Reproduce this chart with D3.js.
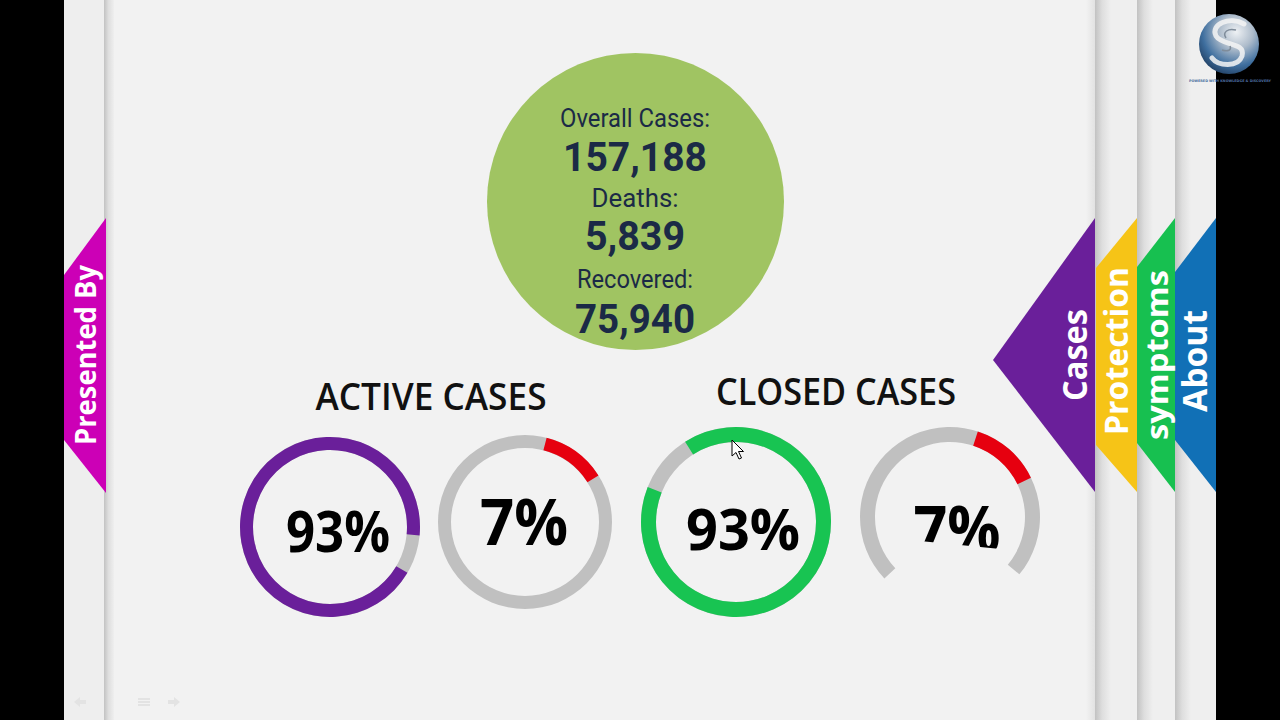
<!DOCTYPE html>
<html><head><meta charset="utf-8">
<script src="https://cdn.jsdelivr.net/npm/d3@7"></script>
<style>html,body{margin:0;padding:0;background:#000;overflow:hidden}</style>
</head><body>
<svg id="c" width="1280" height="720"></svg>
<script>
// ---------- data ----------
const statLabels = ["Overall Cases:", "Deaths:", "Recovered:"];
const statValues = ["157,188", "5,839", "75,940"];
const groupTitles = ["ACTIVE CASES", "CLOSED CASES"];
const ringLabels = ["93%", "7%", "93%", "7%"];
// arcs, in percent of a full turn (clockwise from 12 o'clock)
const ringTrack  = [[0, 100], [0, 100], [0, 100], [63, 136]];
const ringAccent = [[33.5, 126.5], [4, 16], [91, 181], [5, 17.8]];
const tabLabels = ["Cases", "Protection", "symptoms", "About"];
const leftTabLabel = "Presented By";
const logoCaption = "POWERED WITH KNOWLEDGE & DISCOVERY";

// ---------- layout / style ----------
const svg = d3.select("#c");
const defs = svg.append("defs");
const sh = defs.append("linearGradient").attr("id","sh").attr("x1",0).attr("x2",1);
sh.append("stop").attr("offset",0).attr("stop-color","#c2c2c2");
sh.append("stop").attr("offset",0.45).attr("stop-color","#dedede");
sh.append("stop").attr("offset",1).attr("stop-color","#efefef");
const shr = defs.append("linearGradient").attr("id","shr").attr("x1",0).attr("x2",1);
shr.append("stop").attr("offset",0).attr("stop-color","#f2f2f2");
shr.append("stop").attr("offset",1).attr("stop-color","#e2e2e2");
const lg = defs.append("radialGradient").attr("id","logo").attr("cx","62%").attr("cy","30%").attr("r","80%");
lg.append("stop").attr("offset",0).attr("stop-color","#eef1f4");
lg.append("stop").attr("offset",0.35).attr("stop-color","#aebccb");
lg.append("stop").attr("offset",0.7).attr("stop-color","#3f6f9f");
lg.append("stop").attr("offset",1).attr("stop-color","#1a3455");

// backgrounds
svg.append("rect").attr("x",0).attr("y",0).attr("width",1280).attr("height",720).attr("fill","#000");
svg.append("rect").attr("x",64).attr("y",0).attr("width",42).attr("height",720).attr("fill","#eeeeee");
svg.append("rect").attr("x",106).attr("y",0).attr("width",989).attr("height",720).attr("fill","#f2f2f2");
svg.append("rect").attr("x",104).attr("y",0).attr("width",10).attr("height",720).attr("fill","url(#sh)");
svg.append("rect").attr("x",1086).attr("y",0).attr("width",9).attr("height",720).attr("fill","url(#shr)");
[[1095,1137],[1137,1175],[1175,1216]].forEach(([a,b])=>{
  svg.append("rect").attr("x",a).attr("y",0).attr("width",b-a).attr("height",720).attr("fill","#efefef");
  svg.append("rect").attr("x",a).attr("y",0).attr("width",16).attr("height",720).attr("fill","url(#sh)");
});

// tabs
const poly = pts => "M" + pts.map(p=>p.join(",")).join("L") + "Z";
svg.append("path").attr("d",poly([[64,275],[106,218],[106,493],[64,440]])).attr("fill","#cc00b6");
const tabShapes = [
  [[1095,218],[993,360],[1095,492]],
  [[1096,268],[1137,218],[1137,492],[1096,445]],
  [[1137,267],[1175,218],[1175,492],[1137,443]],
  [[1175,272],[1216,218],[1216,492],[1175,440]]
];
const tabColors = ["#6a1f9a","#f6c417","#17c050","#1170b6"];
const tabPos = [[1075,355,34,92],[1116,351,32,168],[1157,355,31,170],[1195,361,34,102]];
tabShapes.forEach((s,i)=>svg.append("path").attr("d",poly(s)).attr("fill",tabColors[i]));
const tabText = (label,[x,y,fs,len]) => svg.append("text")
  .attr("transform",`translate(${x},${y}) rotate(-90)`)
  .attr("text-anchor","middle").attr("dy","0.36em")
  .attr("font-family","'Open Sans', sans-serif").attr("font-weight",700)
  .attr("font-size",fs).attr("fill","#fff")
  .attr("textLength",len).attr("lengthAdjust","spacingAndGlyphs").text(label);
tabLabels.forEach((t,i)=>tabText(t,tabPos[i]));
tabText(leftTabLabel,[86,355,28,180]);

// big stats circle
svg.append("circle").attr("cx",635.5).attr("cy",201.5).attr("r",148.5).attr("fill","#a0c462");
const labelPos = [[127,26,150],[207,26,87],[288,26,116]];
const valuePos = [[171,41,144],[250,41,100],[333,41,120]];
const statText = (t,[y,fs,len],w) => svg.append("text").attr("x",635).attr("y",y)
  .attr("text-anchor","middle").attr("font-family","Roboto, sans-serif")
  .attr("font-weight",w).attr("font-size",fs).attr("fill","#1b2a46")
  .attr("textLength",len).attr("lengthAdjust","spacingAndGlyphs").text(t);
statLabels.forEach((t,i)=>statText(t,labelPos[i],400));
statValues.forEach((t,i)=>statText(t,valuePos[i],700));

// group titles
const titlePos = [[431,410,231],[836,405,240]];
groupTitles.forEach((t,i)=>svg.append("text").attr("x",titlePos[i][0]).attr("y",titlePos[i][1])
  .attr("text-anchor","middle").attr("font-family","'Open Sans', sans-serif").attr("font-weight",600)
  .attr("font-size",37).attr("fill","#111")
  .attr("textLength",titlePos[i][2]).attr("lengthAdjust","spacingAndGlyphs").text(t));

// rings
const ang = d3.scaleLinear().domain([0,100]).range([0, 2*Math.PI]);
const ringGeom = [
  {cx:330, cy:527, r:90, t:13, c:"#6a1f9a"},
  {cx:525, cy:522, r:87, t:13, c:"#e6000f"},
  {cx:736, cy:522, r:95, t:15, c:"#18c452"},
  {cx:950, cy:517, r:90, t:15, c:"#e6000f"}
];
const ringText = [[338,552,58,104],[524,545,66,88],[743,550,58,114],[957,552,65,87]];
const clip = defs.append("clipPath").attr("id","cut");
clip.append("path").attr("d",poly([[880,480],[1040,480],[1040,553],[910,540],[880,540]]));
ringGeom.forEach((g,i)=>{
  const grp = svg.append("g").attr("transform",`translate(${g.cx},${g.cy})`);
  const arc = d3.arc().innerRadius(g.r-g.t).outerRadius(g.r);
  grp.append("path").attr("d",arc({startAngle:ang(ringTrack[i][0]),endAngle:ang(ringTrack[i][1])})).attr("fill","#c0c0c0");
  grp.append("path").attr("d",arc({startAngle:ang(ringAccent[i][0]),endAngle:ang(ringAccent[i][1])})).attr("fill",g.c);
  const [x,y,fs,len] = ringText[i];
  const tx = svg.append("text").attr("x",x).attr("y",y).attr("text-anchor","middle")
    .attr("font-family","'Open Sans', sans-serif").attr("font-weight",700).attr("font-size",fs*0.98).attr("fill","#000")
    .attr("textLength",len).attr("lengthAdjust","spacingAndGlyphs").text(ringLabels[i]);
  if (i===3) tx.attr("clip-path","url(#cut)");
});

// mouse cursor
svg.append("path").attr("transform","translate(732,440)")
  .attr("d","M0,0L0,16L4,12.5L7,19L9.5,18L6.5,11.5L11.5,11.5Z")
  .attr("fill","#fff").attr("stroke","#000").attr("stroke-width",1);

// logo
svg.append("circle").attr("cx",1229).attr("cy",44).attr("r",30).attr("fill","url(#logo)");
svg.append("path").attr("d","M1244,24C1230,16 1210,24 1216,36C1222,46 1246,42 1242,56C1238,68 1218,66 1212,58")
  .attr("fill","none").attr("stroke","#f4f4f4").attr("stroke-width",5).attr("stroke-linecap","round").attr("opacity",0.85);
svg.append("path").attr("d","M1236,30C1228,28 1222,32 1226,38M1222,50C1228,52 1232,50 1230,46")
  .attr("fill","none").attr("stroke","#7f8c9a").attr("stroke-width",1.5);
svg.append("text").attr("x",1230).attr("y",82).attr("text-anchor","middle")
  .attr("font-family","'DejaVu Sans Condensed', 'DejaVu Sans', sans-serif").attr("font-weight",700).attr("font-size",3.4)
  .attr("fill","#4d6fa0").attr("textLength",82).attr("lengthAdjust","spacingAndGlyphs").text(logoCaption);

// faint slide controls
const ctl = svg.append("g").attr("fill","#e3e3e3");
ctl.append("path").attr("d","M74,702L80,697L80,700L86,700L86,704L80,704L80,707Z");
ctl.append("rect").attr("x",138).attr("y",698).attr("width",12).attr("height",2);
ctl.append("rect").attr("x",138).attr("y",701).attr("width",12).attr("height",2);
ctl.append("rect").attr("x",138).attr("y",704).attr("width",12).attr("height",2);
ctl.append("path").attr("d","M180,702L174,697L174,700L168,700L168,704L174,704L174,707Z");
</script>
</body></html>
